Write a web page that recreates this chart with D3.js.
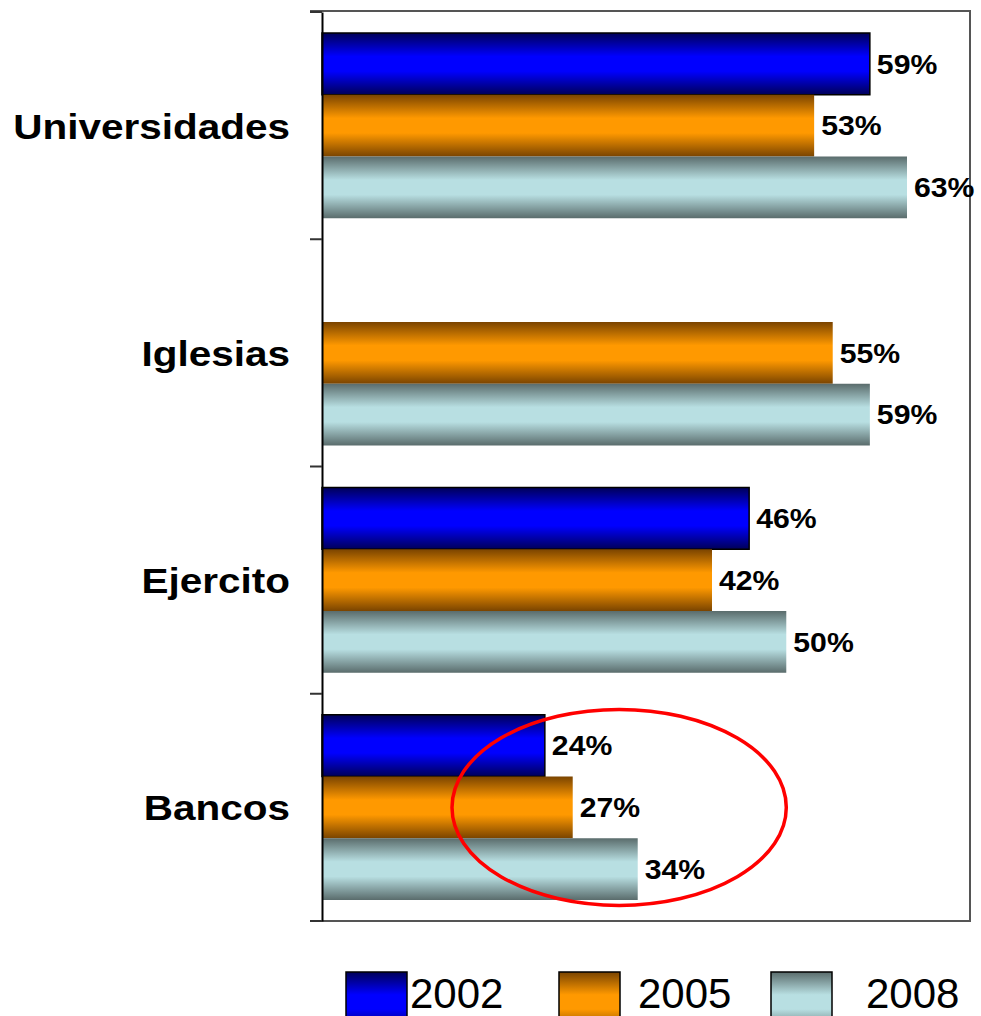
<!DOCTYPE html>
<html><head><meta charset="utf-8">
<script src="https://cdn.jsdelivr.net/npm/d3@7"></script>
<style>body{margin:0;background:#fff}svg{display:block}</style>
</head><body>
<svg id="c" width="981" height="1016"></svg>
<script>
const categories = ["Universidades", "Iglesias", "Ejercito", "Bancos"];
const seriesNames = ["2002", "2005", "2008"];
const v2002 = [0.59, null, 0.46, 0.24];
const v2005 = [0.53, 0.55, 0.42, 0.27];
const v2008 = [0.63, 0.59, 0.50, 0.34];
const seriesValues = [v2002, v2005, v2008];
const highlightCategory = "Bancos";
const highlightRange = [0.14, 0.32, 0.50];

(function () {
const svg = d3.select("#c");
const pL = 322, pR = 972, pT = 12, pB = 921;

const x = d3.scaleLinear().domain([0, 0.70]).range([pL, pR]);
const y = d3.scaleBand().domain(categories).range([pT, pB]).padding(0);
const yInner = d3.scaleBand().domain(seriesNames).range([21, y.bandwidth() - 21]).padding(0);

const grads = {
  "2002": ["#000058", "#0000ff", "#0000ff", "#000058"],
  "2005": ["#7a4400", "#ff9900", "#ff9900", "#7a4400"],
  "2008": ["#5a6c6c", "#b8dfe2", "#b8dfe2", "#5a6c6c"]
};
const defs = svg.append("defs");
seriesNames.forEach(s => {
  const g = defs.append("linearGradient").attr("id", "g" + s)
    .attr("x1", 0).attr("y1", 0).attr("x2", 0).attr("y2", 1);
  const c = grads[s];
  [[0, c[0]], [0.38, c[1]], [0.62, c[2]], [1, c[3]]].forEach(([o, col]) =>
    g.append("stop").attr("offset", o).attr("stop-color", col));
});

// frame
svg.append("path").attr("d", `M${pL - 12},${pT - 1}H${pR - 2}V${pB}H${pL}`)
  .attr("fill", "none").attr("stroke", "#555").attr("stroke-width", 2);

const data = [];
categories.forEach((c, i) => seriesNames.forEach((s, j) => {
  const v = seriesValues[j][i];
  if (v != null) data.push({ c, s, v });
}));

const bars = svg.append("g");
bars.selectAll("rect").data(data).join("rect")
  .attr("x", x(0))
  .attr("y", d => y(d.c) + yInner(d.s))
  .attr("width", d => x(d.v) - x(0))
  .attr("height", yInner.bandwidth())
  .attr("fill", d => `url(#g${d.s})`)
  .attr("stroke", d => d.s === "2002" ? "#000" : "none")
  .attr("stroke-width", 1.5);

// value labels
svg.append("g").selectAll("text").data(data).join("text")
  .attr("transform", d => `translate(${x(d.v) + 7},${y(d.c) + yInner(d.s) + yInner.bandwidth() / 2}) scale(1.12,1)`)
  .attr("dy", "0.36em")
  .attr("font-family", "Liberation Sans, Arial, sans-serif")
  .attr("font-weight", "bold").attr("font-size", 27)
  .text(d => Math.round(d.v * 100) + "%");

// y axis
const yAxis = d3.axisLeft(y).tickSize(0).tickFormat("");
const ax = svg.append("g").attr("transform", `translate(${pL},0)`).call(yAxis);
ax.select(".domain").attr("stroke", "#000").attr("stroke-width", 2);
const bounds = categories.map(c => y(c)).concat([pB]);
svg.append("g").selectAll("line").data(bounds).join("line")
  .attr("x1", pL - 12).attr("x2", pL).attr("y1", d => d).attr("y2", d => d)
  .attr("stroke", "#333").attr("stroke-width", 2);
svg.append("g").selectAll("text").data(categories).join("text")
  .attr("transform", d => `translate(290,${y(d) + y.bandwidth() / 2}) scale(1.125,1)`)
  .attr("text-anchor", "end").attr("dy", "0.36em")
  .attr("font-family", "Liberation Sans, Arial, sans-serif")
  .attr("font-weight", "bold").attr("font-size", 36)
  .text(d => d);

// highlight ellipse
svg.append("ellipse")
  .attr("cx", x(highlightRange[1]))
  .attr("cy", y(highlightCategory) + y.bandwidth() / 2)
  .attr("rx", x(highlightRange[2]) - x(highlightRange[1]))
  .attr("ry", 98)
  .attr("fill", "none").attr("stroke", "#ff0000").attr("stroke-width", 3.5);

// legend
const legX = [346, 559, 771];
const legTX = [410, 638, 866];
const leg = svg.append("g");
seriesNames.forEach((s, i) => {
  leg.append("rect").attr("x", legX[i]).attr("y", 972).attr("width", 61).attr("height", 60)
    .attr("fill", `url(#g${s})`).attr("stroke", "#000").attr("stroke-width", 1.5);
  leg.append("text").attr("x", legTX[i]).attr("y", 1008)
    .attr("font-family", "Liberation Sans, Arial, sans-serif").attr("font-size", 42)
    .text(s);
});
})();
</script>
</body></html>
